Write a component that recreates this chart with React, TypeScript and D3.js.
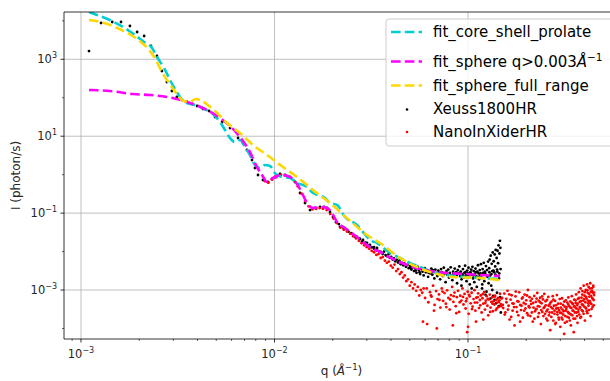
import { useEffect, useRef } from "react";
import * as d3 from "d3";

// axis limits and ticks
const qLimits = [8.17e-4, 0.603];
const iLimits = [5.32e-5, 1.7e4];
const qMajorTicks = [1e-3, 1e-2, 1e-1];
const qTickExp = ["−3", "−2", "−1"];
const iMajorTicks = [1e3, 1e1, 1e-1, 1e-3];
const iTickExp = ["3", "1", "−1", "−3"];
const iMinorTicks = [1e4, 1e2, 1e0, 1e-2, 1e-4];

// fitted curves
const coreShellQ = [1.1e-3, 1.25e-3, 1.48e-3, 1.81e-3, 2.12e-3, 2.33e-3, 2.47e-3, 2.69e-3, 2.92e-3, 3.13e-3, 3.33e-3, 3.53e-3, 3.88e-3, 4.37e-3, 4.93e-3, 5.23e-3, 5.55e-3, 5.89e-3, 6.25e-3, 6.63e-3, 7.04e-3, 7.47e-3, 7.93e-3, 8.42e-3, 8.93e-3, 9.48e-3, 1.006e-2, 1.093e-2, 1.203e-2, 1.307e-2, 1.472e-2, 1.581e-2, 1.678e-2, 1.824e-2, 1.936e-2, 2.104e-2, 2.313e-2, 2.669e-2, 2.867e-2, 3.115e-2, 3.386e-2, 3.954e-2, 4.454e-2, 5.015e-2, 5.648e-2, 6.362e-2, 7.79e-2, 9.65e-2, 0.1153, 0.1463];
const coreShellI = [1.7e4, 1.34e4, 9.33e3, 5.13e3, 2.82e3, 1.97e3, 1.15e3, 594, 257, 141, 87.4, 73, 64.8, 50.9, 33.5, 23.4, 14.5, 8.98, 7.06, 7.96, 5.24, 3.24, 1.78, 1.49, 1.78, 1.68, 1.1, 0.869, 0.818, 0.607, 0.478, 0.333, 0.296, 0.247, 0.183, 0.163, 0.0791, 0.049, 0.0322, 0.02, 0.0167, 0.00917, 0.00679, 0.00504, 0.00396, 0.00312, 0.00245, 0.00218, 0.00205, 0.00193];

const sphereQ = [1.1e-3, 1.41e-3, 1.86e-3, 2.27e-3, 2.78e-3, 3.53e-3, 4.48e-3, 5.23e-3, 5.89e-3, 6.63e-3, 7.47e-3, 8.12e-3, 8.62e-3, 9.15e-3, 9.82e-3, 1.093e-2, 1.203e-2, 1.307e-2, 1.387e-2, 1.472e-2, 1.581e-2, 1.76e-2, 1.868e-2, 1.983e-2, 2.104e-2, 2.313e-2, 2.669e-2, 3.115e-2, 3.509e-2, 4.196e-2, 5.197e-2, 6.362e-2, 7.79e-2, 9.65e-2, 0.1153, 0.1463];
const sphereI = [159, 150, 125, 118, 105, 77.5, 48, 29.7, 18.4, 9.53, 3.88, 1.58, 0.979, 0.644, 0.818, 0.979, 0.869, 0.571, 0.333, 0.183, 0.136, 0.144, 0.136, 0.1005, 0.0586, 0.0409, 0.0239, 0.0131, 0.00973, 0.00603, 0.00396, 0.00312, 0.00277, 0.00261, 0.00245, 0.00231];

const fullRangeQ = [1.1e-3, 1.32e-3, 1.54e-3, 1.81e-3, 2.04e-3, 2.25e-3, 2.44e-3, 2.62e-3, 2.85e-3, 3.1e-3, 3.33e-3, 3.62e-3, 3.93e-3, 4.22e-3, 4.59e-3, 5.05e-3, 5.68e-3, 6.63e-3, 7.74e-3, 9.15e-3, 1.106e-2, 1.307e-2, 1.581e-2, 1.936e-2, 2.455e-2, 3.115e-2, 3.509e-2, 4.454e-2, 6.362e-2, 8.367e-2, 0.1153, 0.1463];
const fullRangeI = [1.05e4, 8.79e3, 6.52e3, 4.29e3, 2.82e3, 1.75e3, 960, 468, 242, 133, 87.4, 77.5, 92.7, 82.3, 61, 40.1, 22, 12.1, 5.9, 3.24, 1.58, 0.869, 0.399, 0.183, 0.063, 0.0239, 0.0167, 0.00679, 0.00294, 0.00218, 0.00205, 0.00182];

// measured data [q, I]
const xeussPoints: [number, number][] = [
  [1.1e-3, 1640], [1.27e-3, 8790], [1.45e-3, 9330], [1.61e-3, 9330], [1.79e-3, 7350], [1.95e-3, 5130], [2.12e-3, 4040], [2.3e-3, 2220], [2.47e-3, 1220], [2.62e-3, 497],
  [2.78e-3, 257], [2.95e-3, 150], [3.13e-3, 105], [3.33e-3, 87.4], [3.53e-3, 77.5], [3.75e-3, 68.8], [3.98e-3, 61], [4.27e-3, 50.9], [4.59e-3, 45.2], [4.93e-3, 31.6],
  [5.36e-3, 23.4], [5.89e-3, 16.3], [6.48e-3, 8.98], [6.87e-3, 6.65], [7.21e-3, 4.38], [7.65e-3, 2.4], [7.93e-3, 1.49], [8.22e-3, 0.979], [8.72e-3, 0.726], [9.26e-3, 0.644],
  [9.71e-3, 0.771], [1.006e-2, 0.869], [1.068e-2, 1.04], [1.133e-2, 0.979], [1.203e-2, 0.869], [1.276e-2, 0.644], [1.355e-2, 0.333], [1.438e-2, 0.183], [1.526e-2, 0.12], [1.62e-2, 0.136],
  [1.719e-2, 0.144], [1.803e-2, 0.144], [1.868e-2, 0.136], [1.936e-2, 0.107], [2.006e-2, 0.0791], [2.078e-2, 0.0586], [2.181e-2, 0.0435], [2.287e-2, 0.0385], [2.37e-2, 0.0363], [2.485e-2, 0.0303],
  [2.576e-2, 0.0269], [2.669e-2, 0.0239], [2.767e-2, 0.0212], [2.867e-2, 0.02], [3.006e-2, 0.0167], [3.115e-2, 0.0148], [3.268e-2, 0.0131], [3.386e-2, 0.0124],
  [0.0215, 0.052], [0.0228, 0.041], [0.0241, 0.033], [0.0253, 0.029], [0.0262, 0.024], [0.0274, 0.022], [0.0283, 0.018], [0.0295, 0.017], [0.0307, 0.0142], [0.0318, 0.0128], [0.0327, 0.0119], [0.0338, 0.0107], [0.0346, 0.0103],
  [0.0355, 9.8e-3], [0.0362, 8.6e-3], [0.0368, 9.9e-3], [0.0375, 8.1e-3], [0.0381, 7.6e-3], [0.0388, 8.4e-3], [0.0394, 6.9e-3], [0.0401, 7.3e-3], [0.0408, 6.2e-3], [0.0414, 6.6e-3],
  [0.0421, 5.6e-3], [0.0428, 6.1e-3], [0.0435, 5.2e-3], [0.0442, 5.8e-3], [0.0449, 4.7e-3], [0.0456, 5.1e-3], [0.0463, 4.4e-3], [0.047, 4.9e-3], [0.0478, 4.0e-3], [0.0486, 4.5e-3], [0.0494, 3.7e-3],
  [0.0502, 4.2e-3], [0.051, 3.4e-3], [0.0518, 3.9e-3], [0.0526, 3.1e-3], [0.0534, 3.6e-3], [0.0542, 2.8e-3], [0.055, 4.0e-3], [0.0558, 3.3e-3], [0.0566, 2.6e-3], [0.0574, 3.5e-3],
  [0.0582, 3.0e-3], [0.059, 2.4e-3], [0.0598, 3.7e-3], [0.0606, 2.9e-3], [0.0614, 3.3e-3], [0.0622, 2.2e-3], [0.063, 3.1e-3], [0.0638, 2.7e-3], [0.0646, 3.6e-3], [0.0654, 2.5e-3],
  [0.0662, 3.0e-3], [0.067, 2.0e-3], [0.0678, 3.4e-3], [0.0686, 2.8e-3], [0.0694, 2.3e-3],
  [0.0702, 3.2e-3], [0.071, 2.6e-3], [0.0718, 1.9e-3], [0.0726, 3.5e-3], [0.0734, 2.9e-3], [0.0742, 2.3e-3], [0.075, 3.8e-3], [0.0758, 2.7e-3], [0.0766, 1.6e-3], [0.0774, 3.1e-3],
  [0.0782, 2.5e-3], [0.079, 3.4e-3], [0.0798, 2.1e-3], [0.0806, 2.8e-3], [0.0814, 3.9e-3], [0.0822, 2.4e-3], [0.083, 1.8e-3], [0.0838, 3.0e-3], [0.0846, 2.6e-3], [0.0854, 3.6e-3],
  [0.0862, 2.2e-3], [0.087, 2.9e-3], [0.0878, 1.5e-3], [0.0886, 3.3e-3], [0.0894, 2.7e-3], [0.0902, 4.1e-3], [0.091, 2.3e-3], [0.0918, 3.0e-3], [0.0926, 1.9e-3], [0.0934, 2.6e-3],
  [0.0942, 3.5e-3], [0.095, 2.1e-3], [0.0958, 2.8e-3], [0.0966, 4.3e-3], [0.0974, 2.4e-3], [0.0982, 1.7e-3], [0.099, 3.2e-3], [0.0998, 2.7e-3], [0.1006, 3.8e-3], [0.1014, 2.2e-3],
  [0.1022, 1.4e-3], [0.103, 2.9e-3], [0.1038, 3.4e-3], [0.1046, 2.5e-3], [0.1054, 4.0e-3], [0.1062, 2.0e-3], [0.107, 3.1e-3], [0.1078, 1.6e-3], [0.1086, 2.6e-3], [0.1094, 3.6e-3],
  [0.1102, 2.3e-3], [0.111, 1.2e-3], [0.1118, 3.0e-3], [0.1126, 4.4e-3], [0.1134, 2.7e-3], [0.1142, 1.9e-3], [0.115, 3.3e-3], [0.1158, 2.4e-3], [0.1166, 4.7e-3], [0.1174, 2.1e-3],
  [0.1182, 1.1e-3], [0.119, 3.5e-3], [0.1198, 2.8e-3], [0.1206, 5.1e-3], [0.1214, 1.7e-3], [0.1222, 3.0e-3], [0.123, 2.5e-3], [0.1238, 4.2e-3], [0.1246, 0.9e-3], [0.1254, 3.3e-3],
  [0.1262, 2.2e-3], [0.127, 5.5e-3], [0.1278, 1.5e-3],
  [0.1286, 3.7e-3], [0.1294, 6.2e-3], [0.1302, 2.4e-3], [0.131, 7.8e-3], [0.1318, 1.3e-3], [0.1326, 4.8e-3], [0.1334, 3.1e-3], [0.1342, 9.5e-3], [0.135, 0.7e-3], [0.1358, 5.6e-3],
  [0.1366, 2.9e-3], [0.1374, 8.4e-3], [0.1382, 4.1e-3], [0.139, 1.1e-2], [0.1398, 0.45e-3], [0.1406, 6.8e-3], [0.1414, 3.4e-3], [0.1422, 1.05e-2], [0.143, 5.0e-3], [0.1438, 1.45e-2],
  [0.1446, 2.0e-3], [0.1454, 8.9e-3], [0.1462, 1.9e-2], [0.147, 1.25e-2], [0.1478, 0.26e-3],
  [0.0506, 3.7e-3], [0.0538, 3.2e-3], [0.0562, 2.9e-3], [0.0594, 3.4e-3], [0.0626, 2.8e-3], [0.0658, 3.3e-3], [0.069, 2.6e-3], [0.0714, 2.9e-3], [0.0746, 2.5e-3], [0.0778, 2.8e-3],
  [0.081, 2.4e-3], [0.0842, 2.7e-3], [0.0874, 2.3e-3], [0.0906, 2.8e-3], [0.0938, 2.4e-3], [0.097, 2.9e-3], [0.1002, 2.3e-3], [0.1034, 2.6e-3], [0.1066, 2.4e-3], [0.1098, 2.9e-3],
  [0.113, 2.2e-3], [0.1162, 2.7e-3], [0.1194, 2.5e-3], [0.1226, 2.8e-3], [0.1258, 2.3e-3], [0.129, 2.9e-3], [0.1322, 2.6e-3], [0.1354, 3.2e-3], [0.1386, 2.5e-3], [0.1418, 3.0e-3],
  [0.145, 2.7e-3], [0.1474, 3.5e-3],
  [0.0925, 1.3e-3], [0.1045, 1.1e-3], [0.1185, 1.4e-3], [0.1232, 0.75e-3], [0.1305, 0.6e-3], [0.1335, 1.0e-3], [0.1372, 0.55e-3], [0.1412, 0.85e-3], [0.1442, 0.38e-3], [0.1466, 0.65e-3],
];

const nanoPoints: [number, number][] = [
  [0.0089, 0.68], [0.0093, 0.62], [0.0097, 0.74], [0.0102, 0.85], [0.0108, 0.98], [0.0114, 0.95], [0.012, 0.84], [0.0126, 0.7], [0.0132, 0.5], [0.0138, 0.32],
  [0.0144, 0.21], [0.015, 0.15], [0.0157, 0.125], [0.0164, 0.13], [0.0171, 0.135], [0.0178, 0.13], [0.0186, 0.12], [0.0194, 0.095], [0.0202, 0.072], [0.021, 0.055],
  [0.0219, 0.042], [0.0228, 0.037], [0.0237, 0.033], [0.0246, 0.029], [0.0255, 0.025], [0.0264, 0.022], [0.0273, 0.019], [0.0282, 0.0165], [0.0291, 0.0145], [0.03, 0.013],
  [0.0309, 0.0118], [0.0318, 0.0104], [0.0327, 0.0096], [0.0336, 0.0082], [0.0345, 0.0086], [0.0354, 0.0068], [0.0363, 0.0072], [0.0372, 0.0058], [0.0381, 0.0051], [0.039, 0.0055],
  [0.0399, 0.0043], [0.0408, 0.0038], [0.0417, 0.0046], [0.0426, 0.0031], [0.0435, 0.0035], [0.0444, 0.0026], [0.0453, 0.0029], [0.0462, 0.0021], [0.0471, 0.0024], [0.048, 0.0017],
  [0.049, 0.0019], [0.05, 0.0013], [0.051, 0.0016], [0.052, 0.0011], [0.053, 0.0014], [0.054, 0.00095], [0.055, 0.0012], [0.056, 0.00072], [0.057, 0.001], [0.058, 0.00085],
  [0.059, 0.0011], [0.06, 0.00062],
  [0.0612, 0.0011], [0.0624, 0.00048], [0.0636, 0.00088], [0.0648, 0.00067], [0.066, 0.0013], [0.0672, 0.00041], [0.0684, 0.00094], [0.0696, 0.00058], [0.0708, 0.00077], [0.072, 0.00035],
  [0.0732, 0.0011], [0.0744, 0.00052], [0.0756, 0.00083], [0.0768, 0.00044], [0.078, 0.00098], [0.0792, 0.00062], [0.0804, 0.00031], [0.0816, 0.00074], [0.0828, 0.0012], [0.084, 0.00049],
  [0.0852, 0.00086], [0.0864, 0.00038], [0.0876, 0.00065], [0.0888, 0.00095], [0.09, 0.00027], [0.0912, 0.00071], [0.0924, 0.00053], [0.0936, 0.0011], [0.0948, 0.00042], [0.096, 0.00079],
  [0.0972, 0.00033], [0.0984, 0.0006], [0.0996, 0.0009], [0.1008, 0.00024], [0.102, 0.00068], [0.1032, 0.00045], [0.1044, 0.00085], [0.1056, 0.00037], [0.1068, 0.00058], [0.108, 0.00099],
  [0.1092, 0.00029], [0.1104, 0.00063], [0.1116, 0.00047], [0.1128, 0.00082], [0.114, 0.00034], [0.1152, 0.00055], [0.1164, 0.00072], [0.1176, 0.00026], [0.1188, 0.00061], [0.12, 0.00044],
  [0.1212, 0.00088], [0.1224, 0.00031], [0.1236, 0.00053], [0.1248, 0.00069], [0.126, 0.00039], [0.1272, 0.00022], [0.1284, 0.00057], [0.1296, 0.00076], [0.1308, 0.00035], [0.132, 0.00049],
  [0.1332, 0.00064], [0.1344, 0.00028], [0.1356, 0.00051], [0.1368, 0.00042], [0.138, 0.00071], [0.1392, 0.0003], [0.1404, 0.00056], [0.1416, 0.00047], [0.1428, 0.00062], [0.144, 0.00036],
  [0.1452, 0.00054], [0.1464, 0.0008], [0.1476, 0.00043], [0.1488, 0.0006],
  [0.0643, 0.00072], [0.0667, 0.00029], [0.0712, 0.00055], [0.0738, 0.00091], [0.0773, 0.00036], [0.0809, 0.00057], [0.0843, 0.00069], [0.0871, 0.00025], [0.0906, 0.00048], [0.0942, 0.00066],
  [0.0977, 0.00051], [0.1013, 0.00075], [0.1049, 0.00032], [0.1085, 0.00047], [0.1121, 0.00065], [0.1157, 0.0004], [0.1193, 0.00078], [0.1229, 0.00046], [0.1265, 0.00059], [0.1301, 0.00027],
  [0.1337, 0.00044], [0.1373, 0.00067], [0.1409, 0.00033], [0.1445, 0.00049], [0.1481, 0.00038],
  [0.0585, 0.00015], [0.0615, 0.00013], [0.069, 0.0001], [0.0835, 0.00012], [0.099, 0.00008], [0.1, 0.00011], [0.11, 0.00015], [0.12, 0.00017],
  [0.15, 6.2e-4], [0.152, 3.4e-4], [0.154, 8.1e-4], [0.156, 2.6e-4], [0.158, 4.8e-4], [0.16, 9.5e-4], [0.162, 3.9e-4], [0.164, 1.7e-4], [0.166, 5.6e-4], [0.168, 7.3e-4],
  [0.17, 2.9e-4], [0.172, 4.4e-4], [0.174, 1.2e-4], [0.176, 6.8e-4], [0.178, 3.6e-4], [0.18, 5.1e-4], [0.182, 2.2e-4], [0.184, 8.7e-4], [0.186, 4.1e-4], [0.188, 3.0e-4],
  [0.19, 6.0e-4], [0.192, 1.9e-4], [0.194, 4.6e-4], [0.196, 7.6e-4], [0.198, 3.3e-4], [0.2, 5.4e-4], [0.202, 2.5e-4], [0.204, 1.0e-3], [0.206, 3.8e-4], [0.208, 6.5e-4],
  [0.21, 2.1e-4], [0.212, 4.3e-4], [0.214, 5.9e-4], [0.216, 1.5e-4], [0.218, 3.5e-4], [0.22, 7.0e-4], [0.222, 2.8e-4], [0.224, 4.9e-4], [0.226, 3.2e-4], [0.228, 8.4e-4],
  [0.23, 2.0e-4], [0.232, 5.3e-4], [0.234, 3.7e-4], [0.236, 6.3e-4], [0.238, 1.3e-4], [0.24, 4.5e-4], [0.242, 2.7e-4], [0.244, 5.7e-4], [0.246, 3.4e-4], [0.248, 7.9e-4],
  [0.25, 2.4e-4], [0.252, 4.0e-4], [0.254, 1.8e-4], [0.256, 5.5e-4], [0.258, 3.1e-4], [0.26, 6.6e-4], [0.262, 2.2e-4], [0.264, 4.2e-4], [0.266, 9.0e-5], [0.268, 3.6e-4],
  [0.27, 5.0e-4], [0.272, 2.6e-4], [0.274, 6.9e-4], [0.276, 1.6e-4], [0.278, 3.9e-4], [0.28, 2.9e-4], [0.282, 5.2e-4], [0.284, 1.4e-4], [0.286, 3.3e-4], [0.288, 7.4e-4],
  [0.29, 2.3e-4], [0.292, 4.4e-4], [0.294, 1.9e-4], [0.296, 3.0e-4], [0.298, 5.8e-4], [0.3, 1.1e-4], [0.302, 3.5e-4], [0.304, 2.5e-4], [0.306, 6.1e-4], [0.308, 1.7e-4],
  [0.31, 4.1e-4], [0.312, 2.8e-4], [0.314, 7.2e-5], [0.316, 3.7e-4], [0.318, 2.1e-4], [0.32, 5.4e-4], [0.322, 3.2e-4], [0.324, 1.5e-4], [0.326, 4.7e-4], [0.328, 2.7e-4],
  [0.33, 6.4e-4], [0.332, 1.9e-4], [0.334, 3.8e-4], [0.336, 2.4e-4], [0.338, 5.0e-4], [0.34, 1.2e-4], [0.342, 3.4e-4], [0.344, 6.9e-4], [0.346, 2.2e-4], [0.348, 4.3e-4],
  [0.35, 2.9e-4], [0.352, 8.0e-5], [0.354, 5.6e-4], [0.356, 3.6e-4], [0.358, 1.8e-4], [0.36, 4.6e-4], [0.362, 7.7e-4], [0.364, 2.6e-4], [0.366, 4.0e-4], [0.368, 1.4e-4],
  [0.37, 5.9e-4], [0.372, 3.1e-4], [0.374, 8.8e-4], [0.376, 2.3e-4], [0.378, 4.9e-4], [0.38, 3.5e-4], [0.382, 1.1e-3], [0.384, 2.0e-4], [0.386, 6.3e-4], [0.388, 4.2e-4],
  [0.39, 9.4e-4], [0.392, 2.8e-4], [0.394, 5.3e-4], [0.396, 1.3e-3], [0.398, 3.7e-4], [0.4, 7.1e-4], [0.402, 1.6e-4], [0.404, 4.8e-4], [0.406, 1.0e-3], [0.408, 3.3e-4],
  [0.41, 6.0e-4], [0.412, 1.4e-3], [0.414, 2.5e-4], [0.416, 8.3e-4], [0.418, 4.5e-4], [0.42, 1.2e-3], [0.422, 3.0e-4], [0.424, 6.7e-4], [0.426, 5.1e-4], [0.428, 1.5e-3],
  [0.43, 2.1e-4], [0.432, 9.0e-4], [0.434, 4.3e-4], [0.436, 1.1e-3], [0.438, 6.2e-4], [0.44, 3.6e-4], [0.442, 8.5e-4], [0.444, 1.3e-3], [0.446, 5.5e-4], [0.448, 7.4e-4],
  [0.1513, 4.1e-4], [0.1548, 2.3e-4], [0.1577, 5.9e-4], [0.1609, 3.1e-4], [0.1634, 7.7e-4], [0.1671, 2.0e-4], [0.1697, 4.5e-4], [0.1729, 3.6e-4], [0.1765, 9.1e-4], [0.1792, 2.7e-4],
  [0.1823, 5.0e-4], [0.1858, 1.5e-4], [0.1889, 3.9e-4], [0.1917, 6.4e-4], [0.1951, 2.9e-4], [0.1984, 4.3e-4], [0.2017, 7.2e-4], [0.2043, 2.2e-4], [0.2079, 3.5e-4], [0.2106, 5.2e-4],
  [0.2138, 2.6e-4], [0.2171, 4.6e-4], [0.2203, 1.8e-4], [0.2239, 3.2e-4], [0.2262, 6.0e-4], [0.2297, 3.8e-4], [0.2325, 2.5e-4], [0.2358, 4.8e-4], [0.2391, 3.0e-4], [0.2417, 6.8e-4],
  [0.2453, 2.1e-4], [0.2486, 3.6e-4], [0.2514, 5.1e-4], [0.2547, 2.8e-4], [0.2573, 1.6e-4], [0.2609, 3.9e-4], [0.2638, 2.6e-4], [0.2671, 4.7e-4], [0.2695, 2.0e-4], [0.2733, 3.3e-4],
  [0.2761, 5.6e-4], [0.2797, 2.4e-4], [0.2826, 1.3e-4], [0.2853, 4.0e-4], [0.2891, 2.7e-4], [0.2918, 3.4e-4], [0.2952, 1.7e-4], [0.2983, 2.6e-4], [0.3011, 4.4e-4], [0.3046, 1.9e-4],
  [0.3077, 3.1e-4], [0.3105, 2.3e-4], [0.3142, 5.0e-4], [0.3167, 1.4e-4], [0.3198, 2.9e-4], [0.3233, 3.6e-4], [0.3261, 2.0e-4], [0.3296, 4.2e-4], [0.3318, 2.5e-4], [0.3357, 1.6e-4],
  [0.3381, 3.5e-4], [0.3416, 2.3e-4], [0.3447, 4.6e-4], [0.3473, 2.9e-4], [0.3509, 1.8e-4], [0.3536, 3.8e-4], [0.3567, 2.6e-4], [0.3594, 5.4e-4], [0.3628, 3.3e-4], [0.3659, 2.1e-4],
  [0.3686, 4.4e-4], [0.3714, 2.7e-4], [0.3748, 6.2e-4], [0.3779, 3.6e-4], [0.3806, 1.9e-4], [0.3835, 5.1e-4], [0.3867, 3.0e-4], [0.3893, 7.6e-4], [0.3928, 4.1e-4], [0.3957, 2.4e-4],
  [0.3986, 5.8e-4], [0.4013, 8.8e-4], [0.4047, 3.5e-4], [0.4078, 6.6e-4], [0.4109, 2.8e-4], [0.4135, 9.7e-4], [0.4168, 5.3e-4], [0.4194, 3.9e-4], [0.4226, 8.0e-4], [0.4259, 1.1e-3],
  [0.4287, 4.6e-4], [0.4317, 7.0e-4], [0.4349, 3.2e-4], [0.4377, 9.3e-4], [0.4408, 5.9e-4], [0.4436, 1.2e-3], [0.4463, 4.0e-4], [0.4479, 8.6e-4],
];

const fitColors = ["#00ced1", "#ff00ff", "#ffd700"];

export default function App() {
  const svgRef = useRef<SVGSVGElement | null>(null);

  useEffect(() => {
    const svg = d3.select(svgRef.current);
    svg.selectAll("*").remove();

    const left = 64, top = 12, right = 619, bottom = 339;
    const x = d3.scaleLog().domain(qLimits).range([left, right]);
    const y = d3.scaleLog().domain(iLimits).range([bottom, top]);

    svg.append("defs").append("clipPath").attr("id", "plot-area")
      .append("rect").attr("x", left).attr("y", top)
      .attr("width", right - left).attr("height", bottom - top);

    // grid
    const grid = svg.append("g").attr("stroke", "#b0b0b0").attr("stroke-width", 0.8);
    grid.selectAll("line.gx").data(qMajorTicks).join("line").attr("class", "gx")
      .attr("x1", (d) => x(d)).attr("x2", (d) => x(d)).attr("y1", top).attr("y2", bottom);
    grid.selectAll("line.gy").data(iMajorTicks).join("line").attr("class", "gy")
      .attr("y1", (d) => y(d)).attr("y2", (d) => y(d)).attr("x1", left).attr("x2", right);

    // measured points
    const plot = svg.append("g").attr("clip-path", "url(#plot-area)");
    plot.append("g").selectAll("circle").data(xeussPoints).join("circle")
      .attr("cx", (d) => x(d[0])).attr("cy", (d) => y(d[1])).attr("r", 1.4).attr("fill", "#000");
    plot.append("g").selectAll("circle").data(nanoPoints).join("circle")
      .attr("cx", (d) => x(d[0])).attr("cy", (d) => y(d[1])).attr("r", 1.4).attr("fill", "#ff0000");

    // fits
    const line = d3.line<[number, number]>()
      .x((d) => x(d[0])).y((d) => y(d[1]))
      .curve(d3.curveMonotoneX);
    const fits = [
      d3.zip(coreShellQ, coreShellI),
      d3.zip(sphereQ, sphereI),
      d3.zip(fullRangeQ, fullRangeI),
    ] as [number, number][][];
    fits.forEach((pts, i) => {
      plot.append("path").attr("d", line(pts))
        .attr("fill", "none").attr("stroke", fitColors[i])
        .attr("stroke-width", 2.6).attr("stroke-dasharray", "9.6,4.2");
    });

    // spines
    const axes = svg.append("g").attr("stroke", "#000").attr("stroke-width", 0.8);
    axes.append("line").attr("x1", left).attr("x2", left).attr("y1", top).attr("y2", bottom);
    axes.append("line").attr("x1", left).attr("x2", right).attr("y1", bottom).attr("y2", bottom);
    axes.append("line").attr("x1", left).attr("x2", right).attr("y1", top).attr("y2", top);

    // ticks
    const minorQ = x.ticks().filter((t) => !qMajorTicks.some((m) => Math.abs(m - t) / m < 1e-6));
    axes.selectAll("line.xmin").data(minorQ).join("line").attr("class", "xmin")
      .attr("x1", (d) => x(d)).attr("x2", (d) => x(d)).attr("y1", bottom).attr("y2", bottom + 2)
      .attr("stroke-width", 0.6);
    axes.selectAll("line.xmaj").data(qMajorTicks).join("line").attr("class", "xmaj")
      .attr("x1", (d) => x(d)).attr("x2", (d) => x(d)).attr("y1", bottom).attr("y2", bottom + 3.5);
    axes.selectAll("line.ymaj").data(iMajorTicks).join("line").attr("class", "ymaj")
      .attr("y1", (d) => y(d)).attr("y2", (d) => y(d)).attr("x1", left).attr("x2", left - 3.5);
    axes.selectAll("line.ymin").data(iMinorTicks.filter((t) => t > iLimits[0] && t < iLimits[1]))
      .join("line").attr("class", "ymin")
      .attr("y1", (d) => y(d)).attr("y2", (d) => y(d)).attr("x1", left).attr("x2", left - 2)
      .attr("stroke-width", 0.6);

    // tick labels
    const labels = svg.append("g").attr("fill", "#262626").style("font-size", "11.5px");
    qMajorTicks.forEach((t, i) => {
      const tx = labels.append("text").attr("x", x(t)).attr("y", 358).attr("text-anchor", "middle");
      tx.append("tspan").text("10");
      tx.append("tspan").attr("dy", -5).style("font-size", "8px").text(qTickExp[i]);
    });
    iMajorTicks.forEach((t, i) => {
      const ty = labels.append("text").attr("x", 57).attr("y", y(t) + 4).attr("text-anchor", "end");
      ty.append("tspan").text("10");
      ty.append("tspan").attr("dy", -5).style("font-size", "8px").text(iTickExp[i]);
    });

    // axis titles
    const xt = svg.append("text").attr("x", (left + right) / 2).attr("y", 375)
      .attr("text-anchor", "middle").style("font-size", "12px").attr("fill", "#262626");
    xt.append("tspan").text("q (");
    xt.append("tspan").style("font-style", "italic").text("Å");
    xt.append("tspan").attr("dy", -5).style("font-size", "8.5px").text("−1");
    xt.append("tspan").attr("dy", 5).text(")");
    svg.append("text").attr("transform", `translate(20,${(top + bottom) / 2}) rotate(-90)`)
      .attr("text-anchor", "middle").style("font-size", "12px").attr("fill", "#262626")
      .text("I (photon/s)");

    // legend
    const lg = svg.append("g");
    lg.append("rect").attr("x", 386).attr("y", 19).attr("width", 240).attr("height", 127)
      .attr("rx", 3).attr("fill", "#fff").attr("fill-opacity", 0.8)
      .attr("stroke", "#cccccc").attr("stroke-width", 1);
    const lineRows = [32, 61.5, 85.5];
    lineRows.forEach((ly, i) => {
      lg.append("line").attr("x1", 391).attr("x2", 422).attr("y1", ly).attr("y2", ly)
        .attr("stroke", fitColors[i]).attr("stroke-width", 2.6).attr("stroke-dasharray", "9.6,4.2");
    });
    lg.append("circle").attr("cx", 407).attr("cy", 109.5).attr("r", 1.3).attr("fill", "#000");
    lg.append("circle").attr("cx", 407).attr("cy", 132).attr("r", 1.3).attr("fill", "#ff0000");
    const lt = lg.append("g").style("font-size", "15px").attr("fill", "#000");
    lt.append("text").attr("x", 433).attr("y", 37).text("fit_core_shell_prolate");
    const t2 = lt.append("text").attr("x", 433).attr("y", 66.5);
    t2.append("tspan").text("fit_sphere q>0.003");
    t2.append("tspan").style("font-style", "italic").text("Å");
    t2.append("tspan").attr("dy", -6).style("font-size", "10.5px").text("−1");
    lt.append("text").attr("x", 433).attr("y", 91).text("fit_sphere_full_range");
    lt.append("text").attr("x", 433).attr("y", 113.5).text("Xeuss1800HR");
    lt.append("text").attr("x", 433).attr("y", 136.5).text("NanoInXiderHR");
  }, []);

  return (
    <svg
      ref={svgRef}
      width={610}
      height={381}
      style={{ position: "absolute", left: 0, top: 0, fontFamily: "'DejaVu Sans', sans-serif", background: "#fff" }}
    />
  );
}
